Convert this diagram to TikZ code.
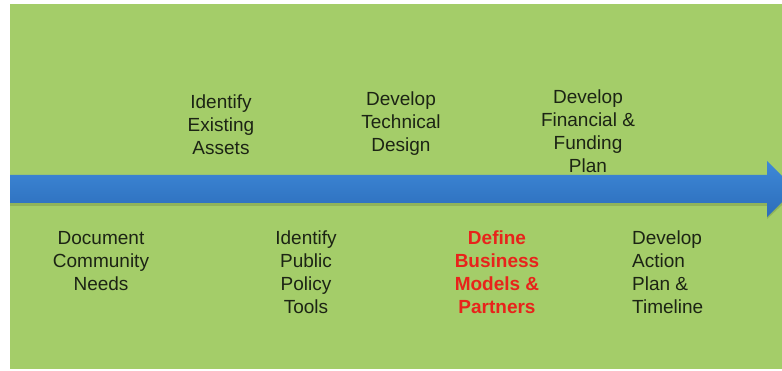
\documentclass[tikz,border=0pt]{standalone}
\usepackage{fontspec}
\setmainfont{Liberation Sans}
\begin{document}
\begin{tikzpicture}[x=1pt,y=1pt,
  lbl/.style={inner sep=0pt, align=center, text=txtdark, font=\fontsize{19}{23}\selectfont},
  lblleft/.style={lbl, align=left},
  hilite/.style={lbl, text=hired, font=\fontsize{19}{23}\selectfont\bfseries}]
\definecolor{bggreen}{HTML}{A4CD69}
\definecolor{txtdark}{HTML}{1C2414}
\definecolor{hired}{HTML}{E8231B}
\definecolor{bluetop}{HTML}{3E89D8}
\definecolor{bluebot}{HTML}{2C6DBA}
\useasboundingbox (0,0) rectangle (782,370);
\fill[white] (0,0) rectangle (782,370);
\fill[bggreen] (10,1) rectangle (782,366);
% timeline arrow
\fill[black!25!bggreen, opacity=0.5] (10,164) -- (767,164) -- (767,151) -- (796,178) -- (767,205) -- (767,192) -- (10,192) -- cycle;
\shade[top color=bluetop, bottom color=bluebot] (10,167) -- (767,167) -- (767,153) -- (795,181) -- (767,209) -- (767,195) -- (10,195) -- cycle;
% labels above
\node[lbl] (assets) at (221,245) {Identify\\Existing\\Assets};
\node[lbl] (tech) at (401,246.5) {Develop\\Technical\\Design};
\node[lbl] (fin) at (588,239) {Develop\\Financial \&\\Funding\\Plan};
% labels below
\node[lbl] (needs) at (101,109) {Document\\Community\\Needs};
\node[lbl] (policy) at (306,97.5) {Identify\\Public\\Policy\\Tools};
\node[hilite] (biz) at (497,97.5) {Define\\Business\\Models \&\\Partners};
\node[lblleft, anchor=west] (action) at (632,97.5) {Develop\\Action\\Plan \&\\Timeline};
\end{tikzpicture}
\end{document}
